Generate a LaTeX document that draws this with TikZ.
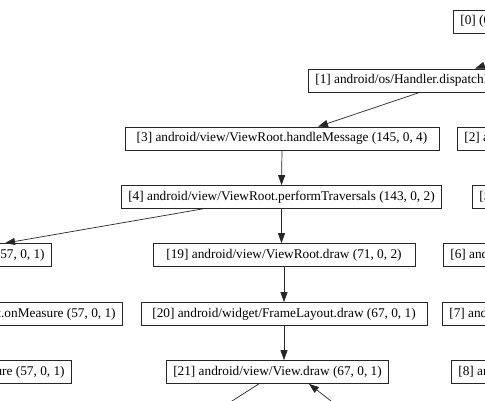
\documentclass[tikz,border=0pt]{standalone}
\usepackage{fontspec}
\setmainfont{Liberation Serif}
\usetikzlibrary{arrows.meta}
\begin{document}
\begin{tikzpicture}[x=1pt, y=-1pt,
  fn/.style={draw=black!85, line width=0.7pt, inner xsep=7pt, inner ysep=0pt, minimum height=23pt, font=\fontsize{13.3}{15}\selectfont},
  edge/.style={draw=black!85, line width=0.7pt, -{Triangle[length=10pt, width=7pt]}},
  link/.style={draw=black!85, line width=0.7pt}]
\useasboundingbox (0,0) rectangle (485,401);
\clip (0,0) rectangle (485,401);
% call nodes, row by row
\node[fn, anchor=west] (n0) at (453,21.5){[0] (0, 0, 1)};
\node[fn, anchor=west] (n1) at (308,80.5){[1] android/os/Handler.dispatchMessage (145, 0, 1)};
\node[fn, minimum width=314pt] (n3) at (282,138.5){[3] android/view/ViewRoot.handleMessage (145, 0, 4)};
\node[fn, anchor=west] (n2) at (457,138.5){[2] android/os/Looper.loop (0, 0, 1)};
\node[fn, minimum width=307pt] (n4) at (281.5,197){[4] android/view/ViewRoot.performTraversals (143, 0, 2)};
\node[fn, anchor=west] (n5) at (472,197){[5] android/view/View.dispatch (0, 0, 1)};
\node[fn, anchor=east] (n9) at (52,255){[9] android/view/View.measure (57, 0, 1)};
\node[fn, minimum width=262pt] (n19) at (284,255){[19] android/view/ViewRoot.draw (71, 0, 2)};
\node[fn, anchor=west] (n6) at (443,255){[6] android/view/View.layout (0, 0, 1)};
\node[fn, anchor=east] (n10) at (123,314){[10] android/widget/FrameLayout.onMeasure (57, 0, 1)};
\node[fn, minimum width=286pt] (n20) at (284,314){[20] android/widget/FrameLayout.draw (67, 0, 1)};
\node[fn, anchor=west] (n7) at (442,314){[7] android/view/View.layout (0, 0, 1)};
\node[fn, anchor=east] (n11) at (72,372){[11] android/view/View.measure (57, 0, 1)};
\node[fn, minimum width=221pt] (n21) at (277.5,372){[21] android/view/View.draw (67, 0, 1)};
\node[fn, anchor=west] (n8) at (451,372){[8] android/view/View.layout (0, 0, 1)};
% free ends beyond the border
\coordinate (e0) at (505,58);
\coordinate (e21a) at (210,415);
\coordinate (e21b) at (349,415);
% calls
\draw[edge] (e0) -- ([xshift=167pt]n1.north west);
\draw[edge] ([xshift=112pt]n1.south west) -- ([xshift=36pt]n3.north);
\draw[edge] (n3.south) -- (n4.north);
\draw[edge] ([xshift=82pt]n4.south west) -- ([xshift=-47pt]n9.north east);
\draw[edge] (n4.south) -- (n4.south |- n19.north);
\draw[edge] (n19.south) -- (n19.south |- n20.north);
\draw[edge] (n20.south) -- (n20.south |- n21.north);
\draw[link] ([xshift=93pt]n21.south west) -- (e21a);
\draw[edge] (e21b) -- ([xshift=143pt]n21.south west);
\end{tikzpicture}
\end{document}
